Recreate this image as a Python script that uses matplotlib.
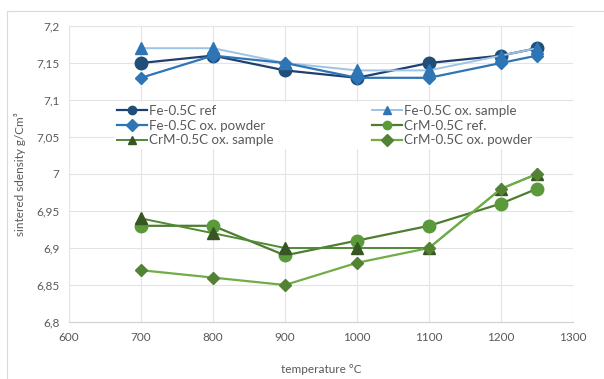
import matplotlib
matplotlib.use("Agg")
import matplotlib.pyplot as plt
from matplotlib.patches import Rectangle
from matplotlib.ticker import FuncFormatter

temps = [700, 800, 900, 1000, 1100, 1200, 1250]
fe_ref = [7.15, 7.16, 7.14, 7.13, 7.15, 7.16, 7.17]
fe_ox_sample = [7.17, 7.17, 7.15, 7.14, 7.14, 7.16, 7.17]
fe_ox_powder = [7.13, 7.16, 7.15, 7.13, 7.13, 7.15, 7.16]
crm_ref = [6.93, 6.93, 6.89, 6.91, 6.93, 6.96, 6.98]
crm_ox_sample = [6.94, 6.92, 6.90, 6.90, 6.90, 6.98, 7.00]
crm_ox_powder = [6.87, 6.86, 6.85, 6.88, 6.90, 6.98, 7.00]

x_ticks = [600, 700, 800, 900, 1000, 1100, 1200, 1300]
y_ticks = [6.8, 6.85, 6.9, 6.95, 7.0, 7.05, 7.1, 7.15, 7.2]

plt.rcParams['font.family'] = ['Lato', 'DejaVu Sans']
TXT = '#595959'
GRID = '#e3e3e3'

fig = plt.figure(figsize=(6.04, 3.79), dpi=100)
ax = fig.add_axes([69/604, 1-322/379, (573-69)/604, (322-26)/379])

# outer chart frame (cut off at right/bottom like the screenshot)
fig.add_artist(Rectangle((7/604, -0.05), 1.1, 1-11/379+0.05, transform=fig.transFigure,
                         fill=False, edgecolor='#d9d9d9', lw=0.8))

series = [
    (fe_ref, 'Fe-0.5C ref', '#1f3f6e', '#1f4e79', 'o', 9, 1.6),
    (fe_ox_sample, 'Fe-0.5C ox. sample', '#9dc3e6', '#2e75b6', '^', 9, 1.4),
    (fe_ox_powder, 'Fe-0.5C ox. powder', '#2e75b6', '#2e75b6', 'D', 6.5, 1.6),
    (crm_ref, 'CrM-0.5C ref.', '#4e7d30', '#5a9a3a', 'o', 9, 1.6),
    (crm_ox_sample, 'CrM-0.5C ox. sample', '#4f8a35', '#375623', '^', 9, 1.4),
    (crm_ox_powder, 'CrM-0.5C ox. powder', '#70ad47', '#548235', 'D', 6.5, 1.6),
]
handles = []
for vals, lab, lc, mc, mk, ms, lw in series:
    h, = ax.plot(temps, vals, color=lc, lw=lw, marker=mk, markersize=ms,
                 markerfacecolor=mc, markeredgecolor=mc, label=lab)
    handles.append(h)

ax.set_xlim(600, 1300)
ax.set_ylim(6.8, 7.2)
ax.set_xticks(x_ticks)
ax.set_yticks(y_ticks)
ax.yaxis.set_major_formatter(FuncFormatter(lambda v, p: f"{v:g}".replace('.', ',')))
ax.grid(True, color=GRID, lw=0.8)
ax.set_axisbelow(True)
for s in ['top', 'right', 'left']:
    ax.spines[s].set_visible(False)
ax.spines['bottom'].set_color('#d0d0d0')
ax.tick_params(length=0, labelsize=8.5, colors=TXT, pad=7)

ax.set_xlabel('temperature °C', fontsize=8.5, color=TXT, labelpad=15)
ax.set_ylabel('sintered sdensity g/Cm³', fontsize=8.5, color=TXT, labelpad=7)

# legend laid out row-wise (matplotlib fills columns first)
order = [0, 2, 4, 1, 3, 5]
leg = ax.legend([handles[i] for i in order], [handles[i].get_label() for i in order],
                ncol=2, mode='expand', loc='lower left',
                bbox_to_anchor=(0.089, 0.585, 0.835, 0.18), fontsize=9.6,
                frameon=True, facecolor='white', edgecolor='none', framealpha=1,
                fancybox=False, borderpad=0.2, borderaxespad=0,
                handlelength=2.3, handletextpad=0.1, labelspacing=0.2)
for t in leg.get_texts():
    t.set_color(TXT)
for ln in leg.get_lines():
    ln.set_markersize(6)

fig.savefig('out.png', dpi=100)
